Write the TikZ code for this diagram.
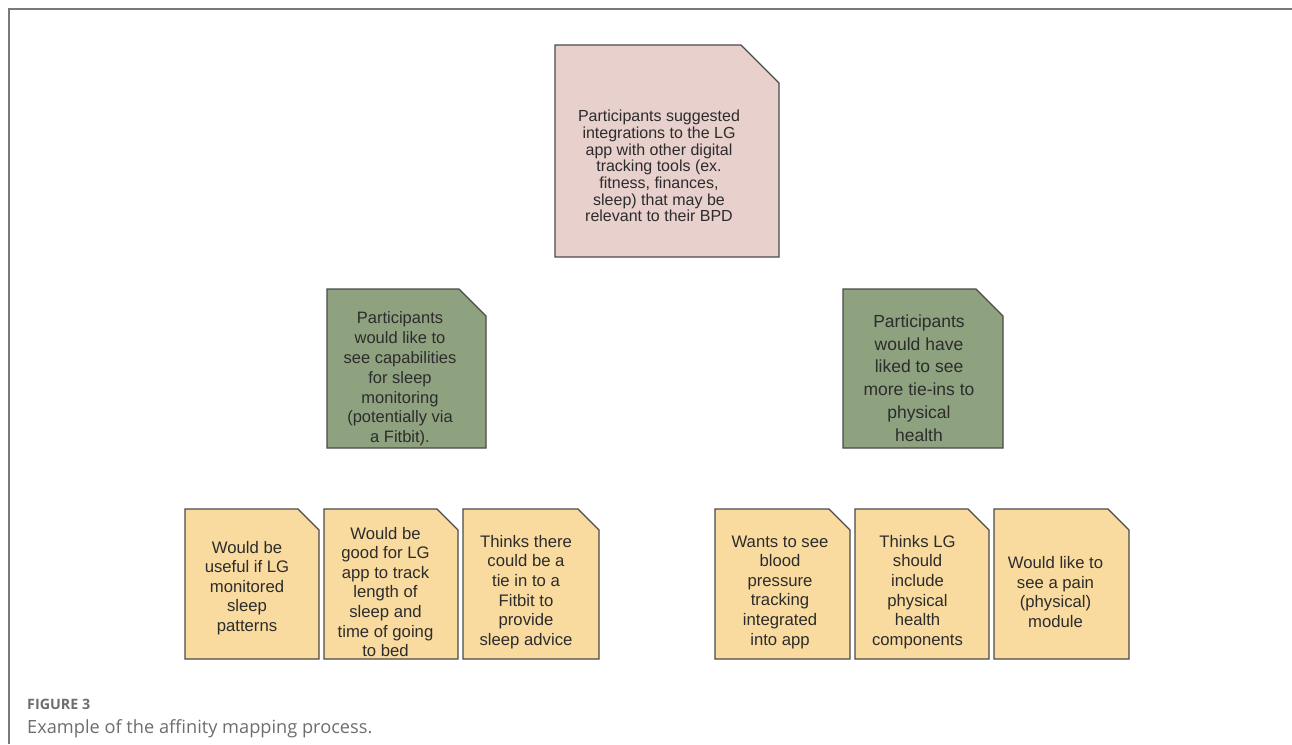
\documentclass[tikz,border=0pt]{standalone}
\usepackage{fontspec}
\setmainfont{Liberation Sans}
\newfontfamily\capfont{Open Sans}
\definecolor{pinkfill}{HTML}{E8D0CD}
\definecolor{greenfill}{HTML}{8FA280}
\definecolor{yellowfill}{HTML}{F9DB9F}
\definecolor{notedraw}{HTML}{4A4A4A}
\definecolor{txt}{HTML}{2C2C2C}
\definecolor{framec}{HTML}{7A7A7A}
\definecolor{capgray}{HTML}{6E6E6E}
\newcommand{\notepath}[6]{%
  \draw[note, fill=#6] (#1,#2) -- ({#3-#5},#2) -- (#3,{#2+#5}) -- (#3,#4) -- (#1,#4) -- cycle;}
\begin{document}
\begin{tikzpicture}[x=1pt,y=-1pt,
  note/.style={draw=notedraw, line width=1.3pt, line join=miter},
  notetext/.style={align=center, text=txt, inner sep=0pt},
  captext/.style={anchor=base west, inner sep=0pt, font=\capfont}]
\useasboundingbox (0,0) rectangle (1292,744);
\fill[white] (0,0) rectangle (1292,744);
\draw[framec, line width=1.5pt] (9,744) -- (9,9) -- (1292,9);

% top pink note
\notepath{555}{45}{779}{257}{38}{pinkfill}
\node[notetext, font=\fontsize{16}{16.7}\selectfont] (top) at (659,166)
  {Participants suggested\\integrations to the LG\\app with other digital\\tracking tools (ex.\\fitness, finances,\\sleep) that may be\\relevant to their BPD};

% green notes
\notepath{327}{289}{486}{448}{27}{greenfill}
\node[notetext, font=\fontsize{16.5}{19.8}\selectfont] (gl) at (400,379)
  {Participants\\would like to\\see capabilities\\for sleep\\monitoring\\(potentially via\\a Fitbit).};

\notepath{843}{289}{1003}{448}{27}{greenfill}
\node[notetext, font=\fontsize{17.5}{22.7}\selectfont] (gr) at (919,378)
  {Participants\\would have\\liked to see\\more tie-ins to\\physical\\health};

% yellow notes
\notepath{185}{509}{319}{659}{21}{yellowfill}
\notepath{324}{509}{458}{659}{21}{yellowfill}
\notepath{463}{509}{599}{659}{21}{yellowfill}
\notepath{715}{509}{850}{659}{21}{yellowfill}
\notepath{855}{509}{989}{659}{21}{yellowfill}
\notepath{994}{509}{1129}{659}{21}{yellowfill}

\tikzset{ytext/.style={notetext, font=\fontsize{16.7}{19.6}\selectfont}}
\node[ytext] (y1) at (247,588) {Would be\\useful if LG\\monitored\\sleep\\patterns};
\node[ytext] (y2) at (385.5,592) {Would be\\good for LG\\app to track\\length of\\sleep and\\time of going\\to bed};
\node[ytext] (y3) at (526,592) {Thinks there\\could be a\\tie in to a\\Fitbit to\\provide\\sleep advice};
\node[ytext] (y4) at (780,592) {Wants to see\\blood\\pressure\\tracking\\integrated\\into app};
\node[ytext] (y5) at (917.5,592) {Thinks LG\\should\\include\\physical\\health\\components};
\node[ytext] (y6) at (1055.5,592) {Would like to\\see a pain\\(physical)\\module};

% caption
\node[captext, text=capgray, font=\capfont\bfseries\fontsize{14.3}{17}\selectfont] (fig) at (27,709) {FIGURE 3};
\node[captext, text=capgray, font=\capfont\fontsize{18.2}{21}\selectfont] (cap) at (27,733) {Example of the affinity mapping process.};
\end{tikzpicture}
\end{document}
